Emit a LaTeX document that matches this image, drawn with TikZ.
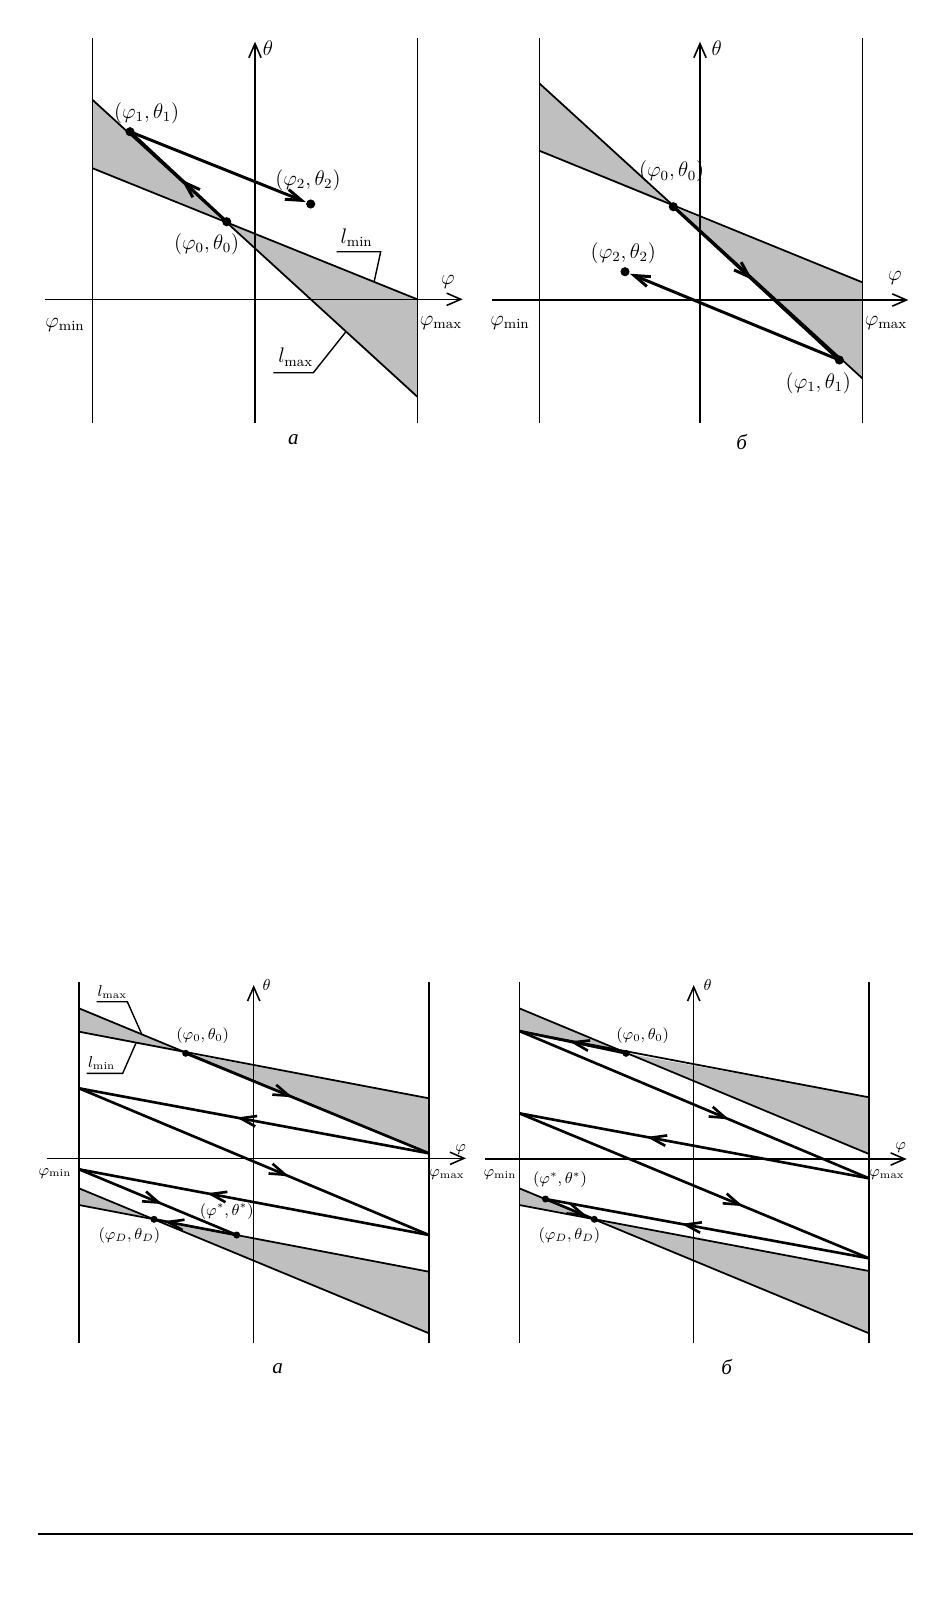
\documentclass[tikz,border=0pt]{standalone}
\usepackage{fontspec}
\newfontfamily\cyrfont{Liberation Serif}
\usetikzlibrary{arrows.meta,decorations.markings}
\tikzset{
  ax/.style={line width=0.9pt},
  axarrow/.style={line width=0.9pt,-{Straight Barb[length=8pt,width=7pt]}},
  traj/.style={line width=1.7pt},
  straj/.style={line width=1.5pt},
  region/.style={fill=black!25,draw=none},
  edgeline/.style={line width=1pt},
  leader/.style={line width=0.8pt},
  midarr/.style={postaction={decorate},decoration={markings,mark=at position #1 with {\arrow{Straight Barb[length=9pt,width=6pt]}}}},
  endarr/.style={-{Straight Barb[length=9pt,width=6pt]}},
  lbl/.style={inner sep=0pt,font=\fontsize{12}{14}\selectfont},
  slbl/.style={inner sep=0pt,font=\fontsize{9}{11}\selectfont},
  caplbl/.style={inner sep=0pt,font=\fontsize{12}{14}\selectfont\cyrfont\itshape},
}
\begin{document}
\begin{tikzpicture}[x=0.02cm,y=-0.02cm]
\useasboundingbox (0,0) rectangle (951,1607);
% ================= top left (a) =================
\coordinate (aL1) at (92.7,38.3); \coordinate (aL2) at (92.7,423);
\coordinate (aA1) at (255,423); \coordinate (aA2) at (255,41.7);
\coordinate (aR1) at (417.3,38.3); \coordinate (aR2) at (417.3,423);
\coordinate (aX1) at (45,299.3); \coordinate (aX2) at (462.7,299.3);
\coordinate (aMaxL) at (92.7,100); \coordinate (aMaxR) at (417.3,396.7);
\coordinate (aMinL) at (92.7,168.3); \coordinate (aMinR) at (417.3,299.3);
\coordinate (aP0) at (226.7,221.7); \coordinate (aP1) at (130,131.7); \coordinate (aP2) at (310.7,204);
\fill[region] (aMaxL) -- (aMinL) -- (aP0) -- cycle;
\fill[region] (aP0) -- (aMinR) -- (aMaxR) -- cycle;
\draw[ax] (aL1) -- (aL2);
\draw[ax] (aR1) -- (aR2);
\draw[axarrow] (aA1) -- (aA2);
\draw[axarrow] (aX1) -- (aX2);
\draw[edgeline] (aMaxL) -- (aMaxR);
\draw[edgeline] (aMinL) -- (aMinR);
\draw[traj,midarr=0.47] (aP0) -- (aP1);
\draw[traj,endarr,shorten >=3pt] (aP1) -- (aP2);
\foreach \p in {aP0,aP1,aP2} \fill (\p) circle[radius=2.6pt];
\coordinate (aLa1) at (336.7,251.7); \coordinate (aLa2) at (380.7,251.7); \coordinate (aLa3) at (374.3,281);
\draw[leader] (aLa1) -- (aLa2) -- (aLa3);
\coordinate (aLb1) at (273.3,372.7); \coordinate (aLb2) at (313.3,372.7); \coordinate (aLb3) at (345.7,332);
\draw[leader] (aLb1) -- (aLb2) -- (aLb3);
\node[lbl] (aTh) at (268,48) {$\theta$};
\node[lbl] (aPh) at (448,282) {$\varphi$};
\node[lbl] (aPmin) at (65,325) {$\varphi_{\mathrm{min}}$};
\node[lbl] (aPmax) at (441,323) {$\varphi_{\mathrm{max}}$};
\node[lbl] (aT1) at (146.7,113.3) {$(\varphi_1,\theta_1)$};
\node[lbl] (aT2) at (308,180) {$(\varphi_2,\theta_2)$};
\node[lbl] (aT0) at (206.7,244) {$(\varphi_0,\theta_0)$};
\node[lbl] (aLmin) at (356.7,237.3) {$l_{\mathrm{min}}$};
\node[lbl] (aLmax) at (295.7,357.3) {$l_{\mathrm{max}}$};
\node[caplbl] (aCap) at (293.3,440) {а};
% ================= top right (b) =================
\coordinate (bL1) at (539.3,38.3); \coordinate (bL2) at (539.3,423);
\coordinate (bA1) at (700,423); \coordinate (bA2) at (700,41.7);
\coordinate (bR1) at (862.3,38.3); \coordinate (bR2) at (862.3,423);
\coordinate (bX1) at (491.7,300); \coordinate (bX2) at (908.3,300);
\coordinate (bMaxL) at (539.3,83.3); \coordinate (bMaxR) at (862.3,378.3);
\coordinate (bMinL) at (539.3,150.7); \coordinate (bMinR) at (862.3,282.3);
\coordinate (bP0) at (673.3,206.7); \coordinate (bP1) at (839.3,360); \coordinate (bP2) at (625,271.7);
\fill[region] (bMaxL) -- (bMinL) -- (bP0) -- cycle;
\fill[region] (bP0) -- (bMinR) -- (bMaxR) -- cycle;
\draw[ax] (bL1) -- (bL2);
\draw[ax] (bR1) -- (bR2);
\draw[axarrow] (bA1) -- (bA2);
\draw[axarrow] (bX1) -- (bX2);
\draw[edgeline] (bMaxL) -- (bMaxR);
\draw[edgeline] (bMinL) -- (bMinR);
\draw[traj,midarr=0.48] (bP0) -- (bP1);
\draw[traj,endarr,shorten >=3pt] (bP1) -- (bP2);
\foreach \p in {bP0,bP1,bP2} \fill (\p) circle[radius=2.6pt];
\node[lbl] (bTh) at (716.7,48.3) {$\theta$};
\node[lbl] (bPh) at (895,278) {$\varphi$};
\node[lbl] (bPmin) at (510,323.3) {$\varphi_{\mathrm{min}}$};
\node[lbl] (bPmax) at (886,323.3) {$\varphi_{\mathrm{max}}$};
\node[lbl] (bT0) at (671.7,171.7) {$(\varphi_0,\theta_0)$};
\node[lbl] (bT2) at (623.3,253.3) {$(\varphi_2,\theta_2)$};
\node[lbl] (bT1) at (818.3,383.3) {$(\varphi_1,\theta_1)$};
\node[caplbl] (bCap) at (741.7,441.7) {б};
% ================= bottom left (a) =================
\coordinate (cL1) at (79,981.7); \coordinate (cL2) at (79,1343.3);
\coordinate (cA1) at (253.7,1343.3); \coordinate (cA2) at (253.7,985);
\coordinate (cR1) at (429,981.7); \coordinate (cR2) at (429,1343.3);
\coordinate (cX1) at (46.7,1158.3); \coordinate (cX2) at (466,1158.3);
\coordinate (cMaxL) at (79,1008.3); \coordinate (cMaxR) at (429,1153.3);
\coordinate (cMinL) at (79,1031.7); \coordinate (cMinR) at (429,1098.3);
\coordinate (cP0) at (185.7,1053.3);
\coordinate (cStL) at (79,1188.3); \coordinate (cStR) at (429,1333.3);
\coordinate (cShL) at (79,1205); \coordinate (cShR) at (429,1271.7);
\coordinate (cPD) at (154,1219.3);
\coordinate (cB) at (79,1088.3); \coordinate (cC) at (429,1235); \coordinate (cD) at (79,1169.3);
\coordinate (cS) at (236.7,1235);
\fill[region] (cMaxL) -- (cMinL) -- (cP0) -- cycle;
\fill[region] (cP0) -- (cMinR) -- (cMaxR) -- cycle;
\fill[region] (cStL) -- (cShL) -- (cPD) -- cycle;
\fill[region] (cPD) -- (cShR) -- (cStR) -- cycle;
\draw[ax] (cL1) -- (cL2);
\draw[ax] (cR1) -- (cR2);
\draw[axarrow] (cA1) -- (cA2);
\draw[axarrow] (cX1) -- (cX2);
\draw[edgeline] (cMaxL) -- (cMaxR);
\draw[edgeline] (cMinL) -- (cMinR);
\draw[edgeline] (cStL) -- (cStR);
\draw[edgeline] (cShL) -- (cShR);
\draw[straj,midarr=0.44] (cP0) -- (cMaxR);
\draw[straj,midarr=0.55] (cMaxR) -- (cB);
\draw[straj,midarr=0.6] (cB) -- (cC);
\draw[straj,midarr=0.635] (cC) -- (cD);
\draw[straj,midarr=0.53] (cD) -- (cS);
\draw[straj,midarr=0.88] (cS) -- (cPD);
\foreach \p in {cP0,cS,cPD} \fill (\p) circle[radius=2pt];
\coordinate (cLa1) at (96.7,1001.7); \coordinate (cLa2) at (127.3,1001.7); \coordinate (cLa3) at (141.7,1034);
\draw[leader] (cLa1) -- (cLa2) -- (cLa3);
\coordinate (cLb1) at (86.7,1073.3); \coordinate (cLb2) at (122.7,1073.3); \coordinate (cLb3) at (136,1043);
\draw[leader] (cLb1) -- (cLb2) -- (cLb3);
\node[slbl] (cTh) at (266.7,985) {$\theta$};
\node[slbl] (cPh) at (460.7,1150) {$\varphi$};
\node[slbl] (cPmin) at (55,1173.3) {$\varphi_{\mathrm{min}}$};
\node[slbl] (cPmax) at (447,1175) {$\varphi_{\mathrm{max}}$};
\node[slbl] (cT0) at (202.7,1036) {$(\varphi_0,\theta_0)$};
\node[slbl] (cTs) at (226.7,1211.7) {$(\varphi^*,\theta^*)$};
\node[slbl] (cTD) at (129.3,1236) {$(\varphi_D,\theta_D)$};
\node[slbl] (cLmax) at (112.3,992.3) {$l_{\mathrm{max}}$};
\node[slbl] (cLmin) at (101.7,1063.3) {$l_{\mathrm{min}}$};
\node[caplbl] (cCap) at (277.7,1368.3) {а};
% ================= bottom right (b) =================
\coordinate (dL1) at (519.3,981.7); \coordinate (dL2) at (519.3,1343.3);
\coordinate (dA1) at (693.7,1343.3); \coordinate (dA2) at (693.7,985);
\coordinate (dR1) at (869,981.7); \coordinate (dR2) at (869,1343.3);
\coordinate (dX1) at (485,1159); \coordinate (dX2) at (906.7,1159);
\coordinate (dMaxL) at (519.3,1008.3); \coordinate (dMaxR) at (869,1154);
\coordinate (dMinL) at (519.3,1031); \coordinate (dMinR) at (869,1097.3);
\coordinate (dP0) at (626,1053.3);
\coordinate (dStL) at (519.3,1188.3); \coordinate (dStR) at (869,1333.3);
\coordinate (dShL) at (519.3,1205); \coordinate (dShR) at (869,1271);
\coordinate (dPD) at (594.3,1219.3);
\coordinate (dF) at (869,1178.3); \coordinate (dG) at (519.3,1113.3); \coordinate (dH) at (869,1258.3);
\coordinate (dS) at (545.5,1199);
\fill[region] (dMaxL) -- (dMinL) -- (dP0) -- cycle;
\fill[region] (dP0) -- (dMinR) -- (dMaxR) -- cycle;
\fill[region] (dStL) -- (dShL) -- (dPD) -- cycle;
\fill[region] (dPD) -- (dShR) -- (dStR) -- cycle;
\draw[ax] (dL1) -- (dL2);
\draw[ax] (dR1) -- (dR2);
\draw[axarrow] (dA1) -- (dA2);
\draw[axarrow] (dX1) -- (dX2);
\draw[edgeline] (dMaxL) -- (dMaxR);
\draw[edgeline] (dMinL) -- (dMinR);
\draw[edgeline] (dStL) -- (dStR);
\draw[edgeline] (dShL) -- (dShR);
\draw[straj,midarr=0.53] (dP0) -- (dMinL);
\draw[straj,midarr=0.6] (dMinL) -- (dF);
\draw[straj,midarr=0.636] (dF) -- (dG);
\draw[straj,midarr=0.64] (dG) -- (dH);
\draw[straj,midarr=0.58] (dH) -- (dS);
\draw[straj,midarr=0.85] (dS) -- (dPD);
\foreach \p in {dP0,dS,dPD} \fill (\p) circle[radius=2pt];
\node[slbl] (dTh) at (707.7,985) {$\theta$};
\node[slbl] (dPh) at (900.7,1148) {$\varphi$};
\node[slbl] (dPmin) at (500,1175) {$\varphi_{\mathrm{min}}$};
\node[slbl] (dPmax) at (887,1175) {$\varphi_{\mathrm{max}}$};
\node[slbl] (dT0) at (642.7,1036) {$(\varphi_0,\theta_0)$};
\node[slbl] (dTs) at (560,1180) {$(\varphi^*,\theta^*)$};
\node[slbl] (dTD) at (569.3,1236) {$(\varphi_D,\theta_D)$};
\node[caplbl] (dCap) at (726.7,1366.7) {б};
% ================= rule =================
\coordinate (rule1) at (37.7,1534); \coordinate (rule2) at (913.3,1534);
\draw[line width=1.3pt] (rule1) -- (rule2);
\end{tikzpicture}
\end{document}
